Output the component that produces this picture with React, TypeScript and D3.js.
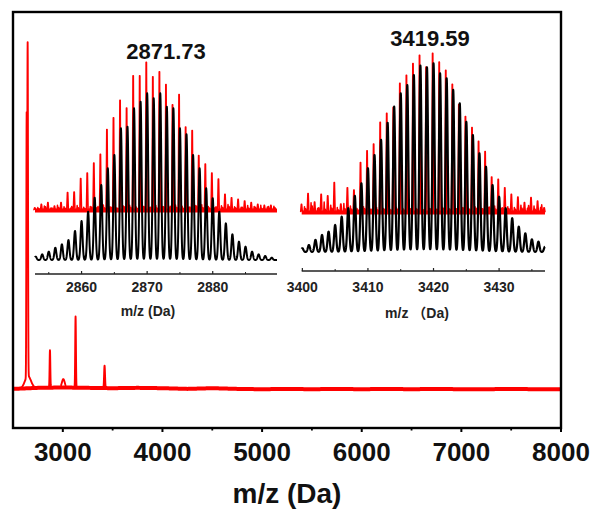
import React from 'react';
import * as d3 from 'd3';

// ---------- main spectrum data ----------
const mainTicks = [3000, 4000, 5000, 6000, 7000, 8000];
const mainMinorTicks = [3500, 4500, 5500, 6500, 7500];
const mainPeakMz = [2637, 2647, 2650, 2871, 3005, 3128, 3419];
const mainPeakHeight = [74, 95, 3.5, 10.7, 2.4, 20.3, 6.4];
const mainPeakSigma = [3, 3.5, 30, 3.5, 14, 3.5, 4.5];
const mainBaseMz = [2500, 2750, 3000, 3250, 3500, 3750, 4000, 4250, 4500, 4750, 5000, 5250, 5500, 5750, 6000, 6250, 6500, 6750, 7000, 7250, 7500, 7750, 8000];
const mainBaseVal = [0.6, 0.9, 1.0, 0.9, 0.8, 0.9, 0.8, 0.6, 0.8, 0.6, 0.5, 0.6, 0.5, 0.6, 0.5, 0.6, 0.5, 0.6, 0.5, 0.5, 0.6, 0.5, 0.5];

// ---------- left inset (2871.73) ----------
const leftMz = [2853, 2854, 2855, 2856, 2857, 2858, 2859, 2860, 2861, 2862, 2863, 2864, 2865, 2866, 2867, 2868, 2869, 2870, 2871, 2872, 2873, 2874, 2875, 2876, 2877, 2878, 2879, 2880, 2881, 2882, 2883, 2884, 2885, 2886, 2887, 2888, 2889];
const leftRed = [2.9, 5.2, 6.3, 4.0, 6.3, 13, 13.4, 22.4, 26, 32.7, 38.5, 55.1, 63, 74.6, 69.5, 91, 91, 100, 90.3, 93.7, 85.2, 71.7, 78.5, 56.7, 54.5, 37.7, 32.1, 26, 22, 11.9, 9.6, 8.5, 7.4, 6.3, 5.2, 4.5, 4.5];
const leftRedNoise = [1.5, 2.5, 1.2, 3.0, 2.0, 1.0, 2.8, 1.6, 2.2, 1.4, 3.2, 2.0, 1.2, 2.6, 3.0, 1.8, 2.4, 1.5, 2.9, 2.1, 1.3, 3.1, 2.4, 1.6, 2.8, 3.4, 2.2, 1.4, 2.6, 3.5, 2.0, 1.6, 2.9, 2.2, 3.0, 1.8, 2.4];
const leftBlack = [2.0, 3.4, 5.0, 7.4, 9.4, 12, 17.4, 23.4, 29, 37.4, 45, 55, 63, 79, 80, 91, 95, 100, 97, 100, 92, 91, 79, 75.4, 63, 55, 43, 37, 29, 22, 15.4, 11, 8, 5, 3.4, 2.4, 1.4];
const leftTicks = [2860, 2870, 2880];
const leftMinor = [2855, 2865, 2875, 2885];

// ---------- right inset (3419.59) ----------
const rightMz = [3400, 3401, 3402, 3403, 3404, 3405, 3406, 3407, 3408, 3409, 3410, 3411, 3412, 3413, 3414, 3415, 3416, 3417, 3418, 3419, 3420, 3421, 3422, 3423, 3424, 3425, 3426, 3427, 3428, 3429, 3430, 3431, 3432, 3433, 3434, 3435, 3436, 3437];
const rightRed = [6.1, 12.7, 7.5, 12.3, 11.3, 19.6, 6.3, 16.4, 15, 32.1, 39.4, 43.6, 57.1, 62.7, 66.4, 81.4, 86.3, 93.6, 98.8, 91.4, 100, 94.6, 89.4, 80.8, 68.1, 60.6, 53.9, 45.2, 38.9, 23.1, 21.7, 16.4, 12.3, 10.6, 7.1, 10.2, 8.1, 3.9];
const rightRedNoise = [3.0, 5.5, 2.0, 6.0, 4.0, 2.5, 5.0, 3.5, 2.0, 3.0, 1.5, 2.5, 2.0, 1.5, 2.5, 2.0, 1.5, 2.0, 1.5, 2.0, 1.5, 2.5, 2.0, 1.5, 2.5, 2.0, 3.0, 2.0, 2.5, 3.5, 2.0, 3.0, 2.5, 4.0, 2.0, 3.5, 2.5, 2.0];
const rightBlack = [2, 3.7, 6.4, 9, 10.8, 14.3, 18.7, 23.2, 29.8, 36.4, 44.4, 51.4, 59.4, 68.5, 77, 84.1, 88.5, 93.8, 98.8, 97.9, 100, 94.7, 92, 85.9, 78.8, 69, 62, 52.3, 45.2, 35.5, 29.3, 23.2, 17.9, 13.4, 9.9, 6.7, 5.5, 2.8];
const rightTicks = [3400, 3410, 3420, 3430];
const rightMinor = [3405, 3415, 3425, 3435];

const FONT = "'Liberation Sans', Arial, Helvetica, sans-serif";

type InsetCfg = {
  mz: number[]; red: number[]; noise: number[]; black: number[];
  ticks: number[]; minor: number[];
  xDomain: [number, number]; xRange: [number, number];
  axisY: number; redBase: number; redTop: number; blackBase: number; blackTop: number;
  sigma: number; blackStroke: number;
  title: string; titleX: number; titleY: number;
  label: string; labelX: number; labelY: number; tickLabelY: number;
};

function Inset({ c }: { c: InsetCfg }) {
  const x = d3.scaleLinear().domain(c.xDomain).range(c.xRange);
  const yR = d3.scaleLinear().domain([0, 100]).range([c.redBase, c.redTop]);
  const yB = d3.scaleLinear().domain([0, 100]).range([c.blackBase, c.blackTop]);
  const samples = d3.range(c.xDomain[0], c.xDomain[1] + 0.0001, 0.02);
  const blackVal = (m: number) => {
    let s = 0;
    for (let i = 0; i < c.mz.length; i++) {
      const d = m - c.mz[i];
      if (Math.abs(d) < 1.2) s += c.black[i] * Math.exp(-(d * d) / (2 * c.sigma * c.sigma));
    }
    return s;
  };
  const blackPath = d3.line<number>().x(m => x(m)).y(m => yB(blackVal(m)))(samples) || '';
  const redPts: [number, number][] = [[c.xDomain[0], 1.5]];
  c.mz.forEach((m, i) => {
    redPts.push([m - 0.14, 1.5], [m - 0.04, c.red[i]], [m + 0.02, c.red[i]], [m + 0.12, 1.5]);
    if (m + 0.5 < c.xDomain[1]) {
      redPts.push([m + 0.38, 1.2], [m + 0.45, c.noise[i] + 1.5], [m + 0.52, 1.0], [m + 0.62, c.noise[(i + 5) % c.noise.length] * 0.7 + 1.5], [m + 0.72, 1.0]);
    }
  });
  redPts.push([c.xDomain[1], 1.5]);
  const redPath = d3.line<[number, number]>().x(p => x(p[0]) - 0.8).y(p => yR(p[1]))(redPts) || '';
  return (
    <g>
      <line x1={c.xRange[0]} x2={c.xRange[1]} y1={c.redBase - 1.5} y2={c.redBase - 1.5} stroke="#ff0000" strokeWidth={4} />
      <path d={redPath} fill="none" stroke="#ff0000" strokeWidth={1.5} strokeLinejoin="round" />
      <path d={blackPath} fill="none" stroke="#000" strokeWidth={c.blackStroke} strokeLinejoin="round" />
      <line x1={c.xRange[0]} x2={c.xRange[1]} y1={c.axisY} y2={c.axisY} stroke="#222" strokeWidth={1.3} />
      {c.ticks.map(t => (
        <g key={t}>
          <line x1={x(t)} x2={x(t)} y1={c.axisY} y2={c.axisY - 3} stroke="#222" strokeWidth={1.2} />
          <text x={x(t)} y={c.tickLabelY} textAnchor="middle" fontFamily={FONT} fontWeight="bold" fontSize={14} fill="#222">{t}</text>
        </g>
      ))}
      {c.minor.map(t => (
        <line key={t} x1={x(t)} x2={x(t)} y1={c.axisY} y2={c.axisY - 2} stroke="#222" strokeWidth={1} />
      ))}
      <text x={c.labelX} y={c.labelY} textAnchor="middle" fontFamily={FONT + ", 'Noto Sans CJK SC'"} fontWeight="bold" fontSize={14} fill="#222">{c.label}</text>
      <text x={c.titleX} y={c.titleY} textAnchor="middle" fontFamily={FONT} fontWeight="bold" fontSize={22} fill="#111">{c.title}</text>
    </g>
  );
}

export default function App() {
  const W = 595, H = 513;
  const x = d3.scaleLinear().domain([2500, 8000]).range([13, 561]);
  const y = d3.scaleLinear().domain([0, 100]).range([391, 40.7]);
  const baseAt = d3.scaleLinear().domain(mainBaseMz).range(mainBaseVal);
  const samples = d3.range(2500, 8000.01, 1);
  const val = (m: number) => {
    let s = baseAt(m);
    for (let i = 0; i < mainPeakMz.length; i++) {
      const d = m - mainPeakMz[i];
      const sg = mainPeakSigma[i];
      if (Math.abs(d) < sg * 5) s += mainPeakHeight[i] * Math.exp(-(d * d) / (2 * sg * sg));
    }
    return s;
  };
  const mainPath = d3.line<number>().x(m => x(m)).y(m => y(val(m)))(samples) || '';
  const basePath = d3.line<number>().x(m => x(m)).y(m => y(baseAt(m)))(samples.filter((_, i) => i % 10 === 0)) || '';

  const left: InsetCfg = {
    mz: leftMz, red: leftRed, noise: leftRedNoise, black: leftBlack, ticks: leftTicks, minor: leftMinor,
    xDomain: [2852.9, 2889.8], xRange: [35, 277],
    axisY: 274, redBase: 212, redTop: 62.3, blackBase: 260, blackTop: 93.3, sigma: 0.15, blackStroke: 2.0,
    title: '2871.73', titleX: 166, titleY: 59,
    label: 'm/z (Da)', labelX: 148, labelY: 316, tickLabelY: 291.5,
  };
  const right: InsetCfg = {
    mz: rightMz, red: rightRed, noise: rightRedNoise, black: rightBlack, ticks: rightTicks, minor: rightMinor,
    xDomain: [3399.9, 3437], xRange: [301.7, 545],
    axisY: 271, redBase: 214, redTop: 53.3, blackBase: 252, blackTop: 63.3, sigma: 0.16, blackStroke: 2.2,
    title: '3419.59', titleX: 430, titleY: 46,
    label: 'm/z （Da)', labelX: 417, labelY: 318, tickLabelY: 291.5,
  };

  return (
    <svg width={W} height={H} viewBox={`0 0 ${W} ${H}`} style={{ position: 'absolute', left: 0, top: 0, background: '#fff' }}>
      <rect x={0} y={0} width={W} height={H} fill="#fff" />
      <path d={basePath} fill="none" stroke="#ff0000" strokeWidth={4} />
      <path d={mainPath} fill="none" stroke="#ff0000" strokeWidth={1.9} strokeLinejoin="round" />
      <rect x={13} y={12} width={548} height={416} fill="none" stroke="#000" strokeWidth={2.4} />
      {mainTicks.map(t => (
        <g key={t}>
          <line x1={x(t)} x2={x(t)} y1={428} y2={432} stroke="#000" strokeWidth={2} />
          <text x={x(t)} y={461} textAnchor="middle" fontFamily={FONT} fontWeight="bold" fontSize={26} fill="#111">{t}</text>
        </g>
      ))}
      {mainMinorTicks.map(t => (
        <line key={t} x1={x(t)} x2={x(t)} y1={428} y2={430.5} stroke="#000" strokeWidth={1.8} />
      ))}
      <text x={287} y={503} textAnchor="middle" fontFamily={FONT} fontWeight="bold" fontSize={28} fill="#111">m/z (Da)</text>
      <Inset c={left} />
      <Inset c={right} />
    </svg>
  );
}
